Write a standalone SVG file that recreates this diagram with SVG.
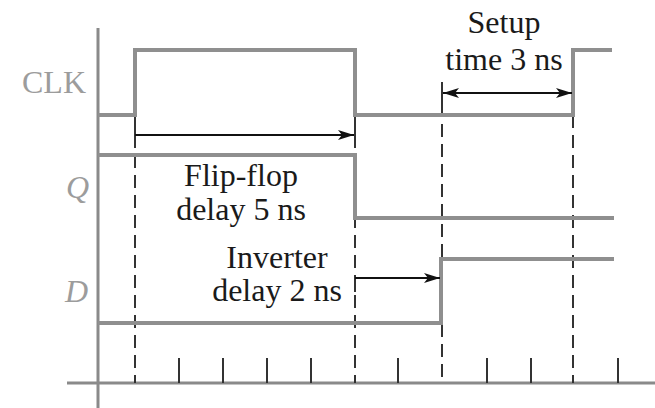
<svg xmlns="http://www.w3.org/2000/svg" width="655" height="408" viewBox="0 0 655 408">
<style>
.axis{stroke:#8a8a8a;stroke-width:3;fill:none}
.sig{stroke:#8f8f8f;stroke-width:4;fill:none;stroke-linejoin:miter}
.dash{stroke:#333;stroke-width:2;stroke-dasharray:13 7;fill:none}
.tick{stroke:#333;stroke-width:2;fill:none}
.arr{stroke:#111;stroke-width:1.8;fill:none}
.lab{font-family:"Liberation Serif","Times New Roman",serif;font-size:32px;fill:#9c9c9c}
.ann{font-family:"Liberation Serif","Times New Roman",serif;font-size:32px;fill:#1a1a1a;text-anchor:middle}
</style>
<defs>
<marker id="ah" markerUnits="userSpaceOnUse" markerWidth="18" markerHeight="12" refX="16" refY="5" orient="auto-start-reverse">
<path d="M0,0 L16,5 L0,10 L4,5 Z" fill="#111"/>
</marker>
</defs>
<g id="axes">
<line class="axis" x1="98" y1="28" x2="98" y2="408"/>
<line class="axis" x1="67" y1="383" x2="655" y2="383"/>
<g class="tick">
<line x1="179" y1="358" x2="179" y2="383"/>
<line x1="223" y1="358" x2="223" y2="383"/>
<line x1="267" y1="358" x2="267" y2="383"/>
<line x1="311" y1="358" x2="311" y2="383"/>
<line x1="398" y1="358" x2="398" y2="383"/>
<line x1="487" y1="358" x2="487" y2="383"/>
<line x1="531" y1="358" x2="531" y2="383"/>
<line x1="618" y1="358" x2="618" y2="383"/>
</g>
</g>
<g id="guides">
<line class="dash" x1="135" y1="115" x2="135" y2="383"/>
<line class="dash" x1="355" y1="115" x2="355" y2="383"/>
<line class="dash" x1="442" y1="104" x2="442" y2="383"/>
<line class="dash" x1="573" y1="115" x2="573" y2="383"/>
</g>
<g id="clk">
<text class="lab" x="22" y="93">CLK</text>
<polyline class="sig" points="98,115 135,115 135,50 355,50 355,115 573,115 573,50 612,50"/>
</g>
<g id="q">
<text class="lab" x="66" y="198" font-style="italic">Q</text>
<polyline class="sig" points="98,155 355,155 355,218 614,218"/>
</g>
<g id="d">
<text class="lab" x="65" y="302" font-style="italic">D</text>
<polyline class="sig" points="98,323 441,323 441,259 614,259"/>
</g>
<g id="connectors">
<line class="tick" x1="135" y1="126" x2="135" y2="148"/>
<line class="tick" x1="355" y1="122" x2="355" y2="148"/>
<line class="arr" x1="135" y1="135" x2="354" y2="135" marker-end="url(#ah)"/>
<line class="tick" x1="355" y1="277" x2="355" y2="292"/>
<line class="arr" x1="355" y1="278" x2="440" y2="278" marker-end="url(#ah)"/>
<line class="tick" x1="442" y1="82" x2="442" y2="104"/>
<line class="arr" x1="443" y1="93" x2="572" y2="93" marker-start="url(#ah)" marker-end="url(#ah)"/>
</g>
<g id="labels">
<text class="ann" x="504" y="33">Setup</text>
<text class="ann" x="504" y="70">time 3 ns</text>
<text class="ann" x="241" y="186">Flip-flop</text>
<text class="ann" x="241" y="220">delay 5 ns</text>
<text class="ann" x="277" y="268">Inverter</text>
<text class="ann" x="277" y="301">delay 2 ns</text>
</g>
</svg>
